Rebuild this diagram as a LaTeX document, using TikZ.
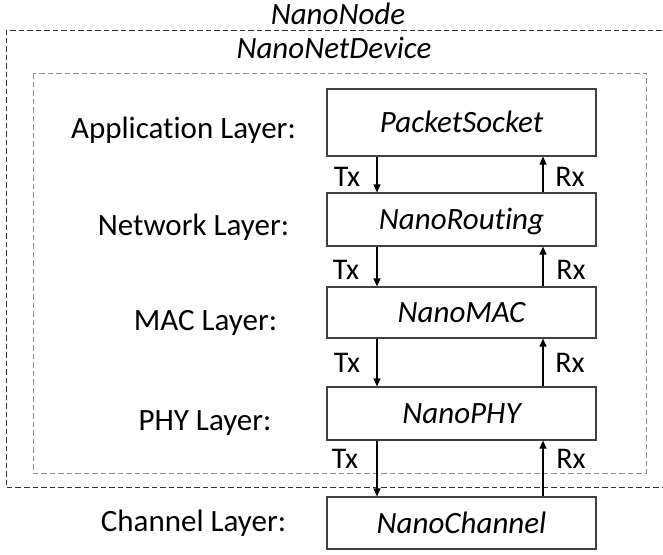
\documentclass[tikz,border=0pt]{standalone}
\usepackage{fontspec}
\setmainfont{Carlito}[Ligatures=NoCommon]
\usetikzlibrary{arrows.meta}
\begin{document}
\begin{tikzpicture}[x=1pt,y=-1pt,
  layerbox/.style={draw=black!75, line width=1.2pt, minimum width=269pt, inner sep=0pt,
    font=\fontsize{31}{37}\selectfont\itshape, text height=20pt, text depth=0pt},
  lbl/.style={font=\fontsize{31}{37}\selectfont, anchor=base, inner sep=0pt},
  title/.style={font=\fontsize{31}{37}\selectfont\itshape, anchor=base, inner sep=0pt},
  txrx/.style={font=\fontsize{30}{36}\selectfont, inner sep=0pt, text height=19pt, text depth=0pt},
  arr/.style={-{Triangle[length=8pt,width=7pt]}, line width=1.2pt, black},
  outerdash/.style={draw=black!80, line width=1pt, dash pattern=on 5.5pt off 3pt},
  innerdash/.style={draw=black!45, line width=1pt, dash pattern=on 5.5pt off 3pt}]
\useasboundingbox (0,0) rectangle (663,554);
% containers
\draw[outerdash] (670,30) -- (6,30) -- (6,487) -- (670,487);
\draw[innerdash] (33,73) rectangle (646,473);
\node[title] (nodeT) at (338,24) {NanoNode};
\node[title] (devT) at (334,58) {NanoNetDevice};
% layer boxes
\node[layerbox, minimum height=67pt] (ps) at (461.5,122.5) {PacketSocket};
\node[layerbox, minimum height=53pt] (nr) at (461.5,219.5) {NanoRouting};
\node[layerbox, minimum height=51pt] (nm) at (461.5,312.5) {NanoMAC};
\node[layerbox, minimum height=53pt] (np) at (461.5,413.5) {NanoPHY};
\node[layerbox, minimum height=52pt] (nc) at (461.5,523) {NanoChannel};
% left labels
\node[lbl] (lapp) at (183.5,138) {Application Layer:};
\node[lbl] (lnet) at (193.5,235) {Network Layer:};
\node[lbl] (lmac) at (205.5,330) {MAC Layer:};
\node[lbl] (lphy) at (205,430) {PHY Layer:};
\node[lbl] (lch) at (193.5,531) {Channel Layer:};
% arrow columns
\coordinate (tx) at (377,0);
\coordinate (rx) at (543,0);
\draw[arr] (ps.south -| tx) -- (nr.north -| tx);
\draw[arr] (nr.south -| tx) -- (nm.north -| tx);
\draw[arr] (nm.south -| tx) -- (np.north -| tx);
\draw[arr] (np.south -| tx) -- (nc.north -| tx);
\draw[arr] (nr.north -| rx) -- (ps.south -| rx);
\draw[arr] (nm.north -| rx) -- (nr.south -| rx);
\draw[arr] (np.north -| rx) -- (nm.south -| rx);
\draw[arr] (nc.north -| rx) -- (np.south -| rx);
% Tx / Rx labels
\node[txrx] (t1) at (347,177) {Tx};
\node[txrx] (r1) at (570,177) {Rx};
\node[txrx] (t2) at (346,270) {Tx};
\node[txrx] (r2) at (571,270) {Rx};
\node[txrx] (t3) at (347,363) {Tx};
\node[txrx] (r3) at (570,363) {Rx};
\node[txrx] (t4) at (345,459) {Tx};
\node[txrx] (r4) at (571,459) {Rx};
\end{tikzpicture}
\end{document}
